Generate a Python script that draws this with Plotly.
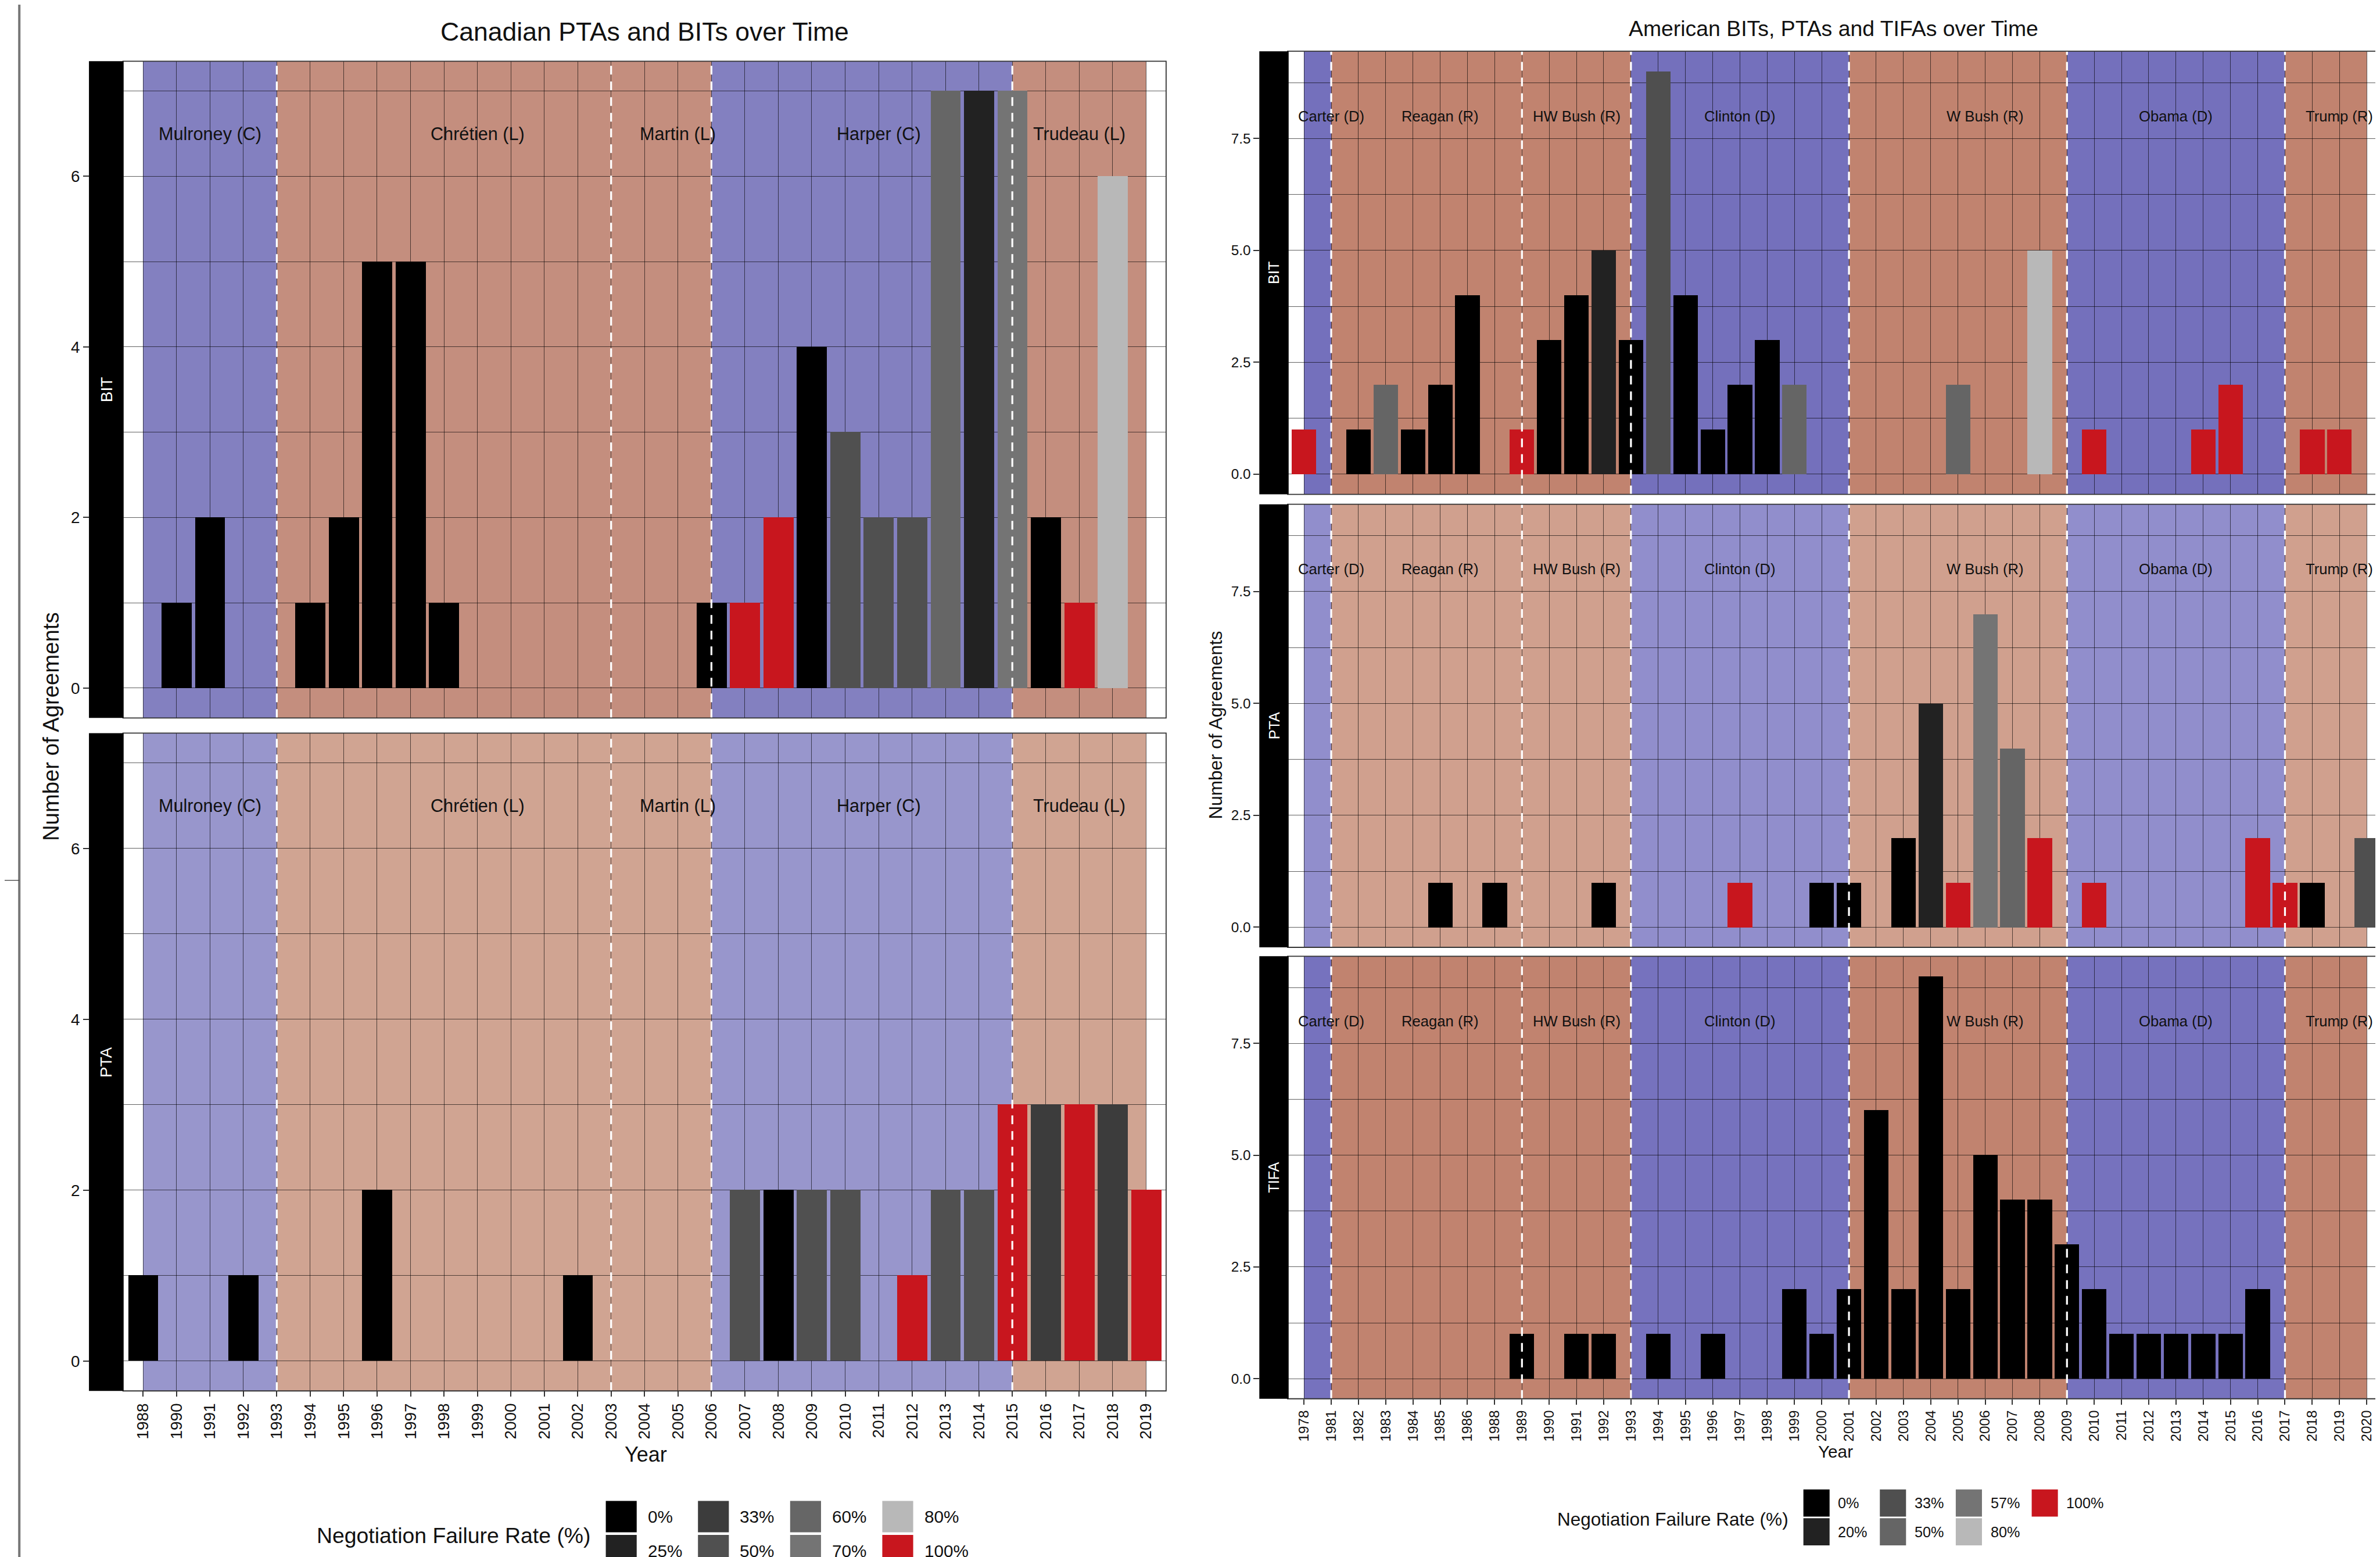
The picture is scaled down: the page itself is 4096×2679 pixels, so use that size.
import plotly.graph_objects as go

# ---------------- scale / geometry helpers ----------------
S = 0.901
W_REF, H_REF = 4545, 2973
FIG_W, FIG_H = 4096, 2679
FONT = "Liberation Sans, Arial, Helvetica, sans-serif"

# ---------------- data: categories ----------------
CA_YEARS = ["1988", "1990", "1991", "1992", "1993", "1994", "1995", "1996", "1997", "1998",
            "1999", "2000", "2001", "2002", "2003", "2004", "2005", "2006", "2007", "2008",
            "2009", "2010", "2011", "2012", "2013", "2014", "2015", "2016", "2017", "2018", "2019"]
US_YEARS = ["1978", "1981", "1982", "1983", "1984", "1985", "1986", "1988", "1989", "1990",
            "1991", "1992", "1993", "1994", "1995", "1996", "1997", "1998", "1999", "2000",
            "2001", "2002", "2003", "2004", "2005", "2006", "2007", "2008", "2009", "2010",
            "2011", "2012", "2013", "2014", "2015", "2016", "2017", "2018", "2019", "2020"]

# ---------------- data: Canada ----------------
CA_BIT_YEARS = ["1990", "1991", "1994", "1995", "1996", "1997", "1998", "2006", "2007", "2008",
                "2009", "2010", "2011", "2012", "2013", "2014", "2015", "2016", "2017", "2018"]
CA_BIT_COUNTS = [1, 2, 1, 2, 5, 5, 1, 1, 1, 2, 4, 3, 2, 2, 7, 7, 7, 2, 1, 6]
CA_BIT_RATES = [0, 0, 0, 0, 0, 0, 0, 0, 100, 100, 0, 50, 50, 50, 60, 25, 70, 0, 100, 80]

CA_PTA_YEARS = ["1988", "1992", "1996", "2002", "2007", "2008", "2009", "2010", "2012", "2013",
                "2014", "2015", "2016", "2017", "2018", "2019"]
CA_PTA_COUNTS = [1, 1, 2, 1, 2, 2, 2, 2, 1, 2, 2, 3, 3, 3, 3, 2]
CA_PTA_RATES = [0, 0, 0, 0, 50, 0, 50, 50, 100, 50, 50, 100, 33, 100, 33, 100]

# ---------------- data: United States ----------------
US_BIT_YEARS = ["1978", "1982", "1983", "1984", "1985", "1986", "1989", "1990", "1991", "1992",
                "1993", "1994", "1995", "1996", "1997", "1998", "1999", "2005", "2008", "2010",
                "2014", "2015", "2018", "2019"]
US_BIT_COUNTS = [1, 1, 2, 1, 2, 4, 1, 3, 4, 5, 3, 9, 4, 1, 2, 3, 2, 2, 5, 1, 1, 2, 1, 1]
US_BIT_RATES = [100, 0, 50, 0, 0, 0, 100, 0, 0, 20, 0, 33, 0, 0, 0, 0, 50, 50, 80, 100,
                100, 100, 100, 100]

US_PTA_YEARS = ["1985", "1988", "1992", "1997", "2000", "2001", "2003", "2004", "2005", "2006",
                "2007", "2008", "2010", "2016", "2017", "2018", "2020"]
US_PTA_COUNTS = [1, 1, 1, 1, 1, 1, 2, 5, 1, 7, 4, 2, 1, 2, 1, 1, 2]
US_PTA_RATES = [0, 0, 0, 100, 0, 0, 0, 20, 100, 57, 50, 100, 100, 100, 100, 0, 33]

US_TIFA_YEARS = ["1989", "1991", "1992", "1994", "1996", "1999", "2000", "2001", "2002", "2003",
                 "2004", "2005", "2006", "2007", "2008", "2009", "2010", "2011", "2012", "2013",
                 "2014", "2015", "2016"]
US_TIFA_COUNTS = [1, 1, 1, 1, 1, 2, 1, 2, 6, 2, 9, 2, 5, 4, 4, 3, 2, 1, 1, 1, 1, 1, 2]
US_TIFA_RATES = [0, 0, 0, 0, 0, 0, 0, 0, 0, 0, 0, 0, 0, 0, 0, 0, 0, 0, 0, 0, 0, 0, 0]

# ---------------- failure-rate scales ----------------
CA_RATE_VALUES = [0, 25, 33, 50, 60, 70, 80, 100]
CA_RATE_LABELS = ["0%", "25%", "33%", "50%", "60%", "70%", "80%", "100%"]
CA_RATE_COLORS = ["#000000", "#222222", "#3c3c3c", "#505050", "#666666", "#747474", "#b8b8b8", "#c8161e"]
US_RATE_VALUES = [0, 20, 33, 50, 57, 80, 100]
US_RATE_LABELS = ["0%", "20%", "33%", "50%", "57%", "80%", "100%"]
US_RATE_COLORS = ["#000000", "#222222", "#4f4f4f", "#656565", "#747474", "#b8b8b8", "#c8161e"]

# ---------------- eras ----------------
CA_ERA_NAMES = ["Mulroney (C)", "Chrétien (L)", "Martin (L)", "Harper (C)", "Trudeau (L)"]
CA_ERA_START = ["1988", "1993", "2003", "2006", "2015"]
CA_ERA_END = ["1993", "2003", "2006", "2015", "2019"]
CA_ERA_PARTY = ["C", "L", "L", "C", "L"]
CA_ERA_LABEL_AT = ["1991", "1999", "2005", "2011", "2017"]

US_ERA_NAMES = ["Carter (D)", "Reagan (R)", "HW Bush (R)", "Clinton (D)", "W Bush (R)", "Obama (D)", "Trump (R)"]
US_ERA_START = ["1978", "1981", "1989", "1993", "2001", "2009", "2017"]
US_ERA_END = ["1981", "1989", "1993", "2001", "2009", "2017", "2020"]
US_ERA_PARTY = ["D", "R", "R", "D", "R", "D", "R"]
US_ERA_LABEL_AT = ["1981", "1985", "1991", "1997", "2006", "2013", "2019"]

BLUE_PARTIES = {"C", "D"}

# ---------------- styles ----------------
GRID = "rgba(0,0,0,0.62)"
BORDER = "#333333"
TEXT = "#111111"


def fx(x):
    return x / W_REF


def fy(y):
    return 1 - y / H_REF


fig = go.Figure()
axes = {}
shapes = []
annotations = []


def add_panel(n, cats, xdom, ydom, strip, yrange, ytickvals, yticktext, yminor,
              bar_years, bar_counts, bar_rates, rate_vals, rate_colors, fill_blue, fill_brown,
              era_start, era_end, era_party, era_names, era_label_at, era_label_y,
              era_font, show_xlabels, xtick_font, ytick_font, strip_text, strip_font):
    xa = "xaxis" if n == 1 else f"xaxis{n}"
    ya = "yaxis" if n == 1 else f"yaxis{n}"
    xr = "x" if n == 1 else f"x{n}"
    yr = "y" if n == 1 else f"y{n}"
    pos = {c: i for i, c in enumerate(cats)}
    ncat = len(cats)
    color_of = dict(zip(rate_vals, rate_colors))

    fig.add_trace(go.Bar(
        x=[pos[y] for y in bar_years], y=bar_counts, width=0.9,
        marker=dict(color=[color_of[r] for r in bar_rates], line=dict(width=0)),
        xaxis=xr, yaxis=yr, showlegend=False, hoverinfo="skip"))

    axes[xa] = dict(
        domain=[fx(xdom[0]), fx(xdom[1])], anchor=yr, range=[-0.6, ncat - 0.4],
        tickmode="array", tickvals=list(range(ncat)), ticktext=cats,
        showticklabels=show_xlabels, ticks="outside" if show_xlabels else "",
        ticklen=10 * S, tickwidth=2 * S, tickcolor=BORDER, tickangle=-90,
        tickfont=dict(size=xtick_font, color=TEXT, family=FONT),
        showgrid=True, gridcolor=GRID, gridwidth=1.4 * S,
        zeroline=False, showline=False, fixedrange=True)
    axes[ya] = dict(
        domain=[fy(ydom[1]), fy(ydom[0])], anchor="free", position=fx(strip[0]),
        range=yrange, tickmode="array", tickvals=ytickvals, ticktext=yticktext,
        ticks="outside", ticklen=11 * S, tickwidth=2 * S, tickcolor=BORDER,
        tickfont=dict(size=ytick_font, color=TEXT, family=FONT),
        showgrid=True, gridcolor=GRID, gridwidth=1.4 * S,
        minor=dict(tickmode="array", tickvals=yminor, showgrid=True, gridcolor=GRID,
                   gridwidth=1.4 * S, ticks=""),
        zeroline=False, showline=False, fixedrange=True)

    # era background rectangles (drawn below the translucent grid)
    for s, e, p in zip(era_start, era_end, era_party):
        shapes.append(dict(type="rect", xref=xr, yref=f"{yr} domain",
                           x0=pos[s], x1=pos[e], y0=0, y1=1,
                           fillcolor=fill_blue if p in BLUE_PARTIES else fill_brown,
                           line=dict(width=0), layer="below"))
    # dashed boundaries
    for s in era_start[1:]:
        shapes.append(dict(type="line", xref=xr, yref=f"{yr} domain",
                           x0=pos[s], x1=pos[s], y0=0, y1=1,
                           line=dict(color="white", width=3.6 * S, dash="15px,12px"),
                           layer="above"))
    # era labels
    for name, at in zip(era_names, era_label_at):
        annotations.append(dict(xref=xr, yref=yr, x=pos[at], y=era_label_y, text=name,
                                showarrow=False, xanchor="center", yanchor="middle",
                                font=dict(size=era_font, color=TEXT, family=FONT)))
    # panel border
    shapes.append(dict(type="rect", xref=f"{xr} domain", yref=f"{yr} domain",
                       x0=0, x1=1, y0=0, y1=1, line=dict(color=BORDER, width=2 * S),
                       fillcolor="rgba(0,0,0,0)", layer="above"))
    # strip
    shapes.append(dict(type="rect", xref="paper", yref="paper",
                       x0=fx(strip[0]), x1=fx(strip[1]), y0=fy(ydom[1]), y1=fy(ydom[0]),
                       fillcolor="black", line=dict(width=0), layer="above"))
    annotations.append(dict(xref="paper", yref="paper", x=fx((strip[0] + strip[1]) / 2),
                            y=fy((ydom[0] + ydom[1]) / 2), text=strip_text, textangle=-90,
                            showarrow=False, xanchor="center", yanchor="middle",
                            font=dict(size=strip_font, color="white", family=FONT)))


CA_FILL = dict(bit=("#8380c0", "#c48e7e"), pta=("#9896cc", "#d0a492"))
US_FILL = dict(bit=("#7470bc", "#c1836f"), pta=("#918ecc", "#d0a08e"), tifa=("#7672be", "#c1836f"))

ca_common = dict(cats=CA_YEARS, xdom=(226, 2218), strip=(161, 227), yrange=[-0.35, 7.35],
                 ytickvals=[0, 2, 4, 6], yticktext=["0", "2", "4", "6"], yminor=[1, 3, 5, 7],
                 rate_vals=CA_RATE_VALUES, rate_colors=CA_RATE_COLORS,
                 era_start=CA_ERA_START, era_end=CA_ERA_END, era_party=CA_ERA_PARTY,
                 era_names=CA_ERA_NAMES, era_label_at=CA_ERA_LABEL_AT, era_label_y=6.5,
                 era_font=34 * S, xtick_font=31 * S, ytick_font=31 * S, strip_font=31 * S)
us_common = dict(cats=US_YEARS, xdom=(2450, 4542), strip=(2396, 2452), yrange=[-0.45, 9.45],
                 ytickvals=[0, 2.5, 5, 7.5], yticktext=["0.0", "2.5", "5.0", "7.5"],
                 yminor=[1.25, 3.75, 6.25, 8.75],
                 rate_vals=US_RATE_VALUES, rate_colors=US_RATE_COLORS,
                 era_start=US_ERA_START, era_end=US_ERA_END, era_party=US_ERA_PARTY,
                 era_names=US_ERA_NAMES, era_label_at=US_ERA_LABEL_AT, era_label_y=8,
                 era_font=28.5 * S, xtick_font=27 * S, ytick_font=27 * S, strip_font=28 * S)

add_panel(1, ydom=(108, 1362), bar_years=CA_BIT_YEARS, bar_counts=CA_BIT_COUNTS, bar_rates=CA_BIT_RATES,
          fill_blue=CA_FILL["bit"][0], fill_brown=CA_FILL["bit"][1], show_xlabels=False,
          strip_text="BIT", **ca_common)
add_panel(2, ydom=(1391, 2647), bar_years=CA_PTA_YEARS, bar_counts=CA_PTA_COUNTS, bar_rates=CA_PTA_RATES,
          fill_blue=CA_FILL["pta"][0], fill_brown=CA_FILL["pta"][1], show_xlabels=True,
          strip_text="PTA", **ca_common)
add_panel(3, ydom=(89, 935), bar_years=US_BIT_YEARS, bar_counts=US_BIT_COUNTS, bar_rates=US_BIT_RATES,
          fill_blue=US_FILL["bit"][0], fill_brown=US_FILL["bit"][1], show_xlabels=False,
          strip_text="BIT", **us_common)
add_panel(4, ydom=(954, 1800), bar_years=US_PTA_YEARS, bar_counts=US_PTA_COUNTS, bar_rates=US_PTA_RATES,
          fill_blue=US_FILL["pta"][0], fill_brown=US_FILL["pta"][1], show_xlabels=False,
          strip_text="PTA", **us_common)
add_panel(5, ydom=(1817, 2662), bar_years=US_TIFA_YEARS, bar_counts=US_TIFA_COUNTS, bar_rates=US_TIFA_RATES,
          fill_blue=US_FILL["tifa"][0], fill_brown=US_FILL["tifa"][1], show_xlabels=True,
          strip_text="TIFA", **us_common)


def text(x, y, s, size, angle=0, xanchor="center", color=TEXT):
    annotations.append(dict(xref="paper", yref="paper", x=fx(x), y=fy(y), text=s, textangle=angle,
                            showarrow=False, xanchor=xanchor, yanchor="middle",
                            font=dict(size=size, color=color, family=FONT)))


# titles and axis titles
text(1222, 52, "Canadian PTAs and BITs over Time", 49.5 * S)
text(3493, 46, "American BITs, PTAs and TIFAs over Time", 41.5 * S)
text(88, 1378, "Number of Agreements", 42.5 * S, angle=-90)
text(2312, 1376, "Number of Agreements", 35 * S, angle=-90)
text(1224, 2768, "Year", 40 * S)
text(3496, 2763, "Year", 33 * S)


def add_legend(title, title_right, title_y, title_size, labels, colors, col_x, row_y,
               key_w, key_h, label_dx, label_size):
    text(title_right, title_y, title, title_size, xanchor="right")
    for i, (lab, col) in enumerate(zip(labels, colors)):
        c, r = i // 2, i % 2
        x0, y0 = col_x[c], row_y[r]
        shapes.append(dict(type="rect", xref="paper", yref="paper",
                           x0=fx(x0), x1=fx(x0 + key_w), y0=fy(y0 + key_h), y1=fy(y0),
                           fillcolor=col, line=dict(width=0), layer="above"))
        text(x0 + label_dx, y0 + key_h / 2, lab, label_size, xanchor="left")


add_legend("Negotiation Failure Rate (%)", 1122, 2923, 41.5 * S, CA_RATE_LABELS, CA_RATE_COLORS,
           [1148, 1324, 1500, 1676], [2857, 2922], 59, 60, 78, 33 * S)
add_legend("Negotiation Failure Rate (%)", 3409, 2892, 35 * S, US_RATE_LABELS, US_RATE_COLORS,
           [3435, 3581, 3726, 3871], [2835, 2890], 50, 52, 64, 28 * S)

# frame artefact at the far left of the reference
shapes.append(dict(type="line", xref="paper", yref="paper", x0=fx(28), x1=fx(28), y0=0, y1=1,
                   line=dict(color="#777777", width=4.5 * S), layer="above"))
shapes.append(dict(type="line", xref="paper", yref="paper", x0=0, x1=fx(28), y0=fy(1672), y1=fy(1672),
                   line=dict(color="#444444", width=1.5 * S), layer="above"))

fig.update_layout(width=FIG_W, height=FIG_H, margin=dict(l=0, r=0, t=0, b=0),
                  paper_bgcolor="white", plot_bgcolor="white", showlegend=False,
                  bargap=0, font=dict(family=FONT, color=TEXT),
                  shapes=shapes, annotations=annotations, **axes)

fig.write_html("out.html")
